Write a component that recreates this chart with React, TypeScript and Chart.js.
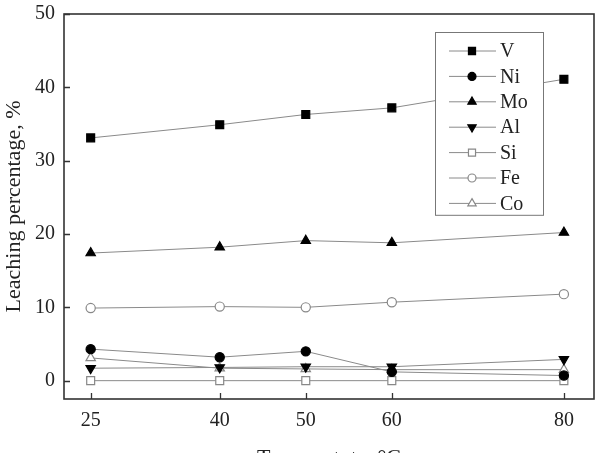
import React, { useEffect, useRef } from "react";
import { Chart, registerables } from "chart.js";
import { drawPoint } from "chart.js/helpers";

Chart.register(...registerables);

const temperatures = [25, 40, 50, 60, 80];
const xTickLabels = ["25", "40", "50", "60", "80"];
const yTicks = [0, 10, 20, 30, 40, 50];

const vValues = [33.1, 34.9, 36.3, 37.2, 41.1];
const niValues = [4.3, 3.2, 4.0, 1.2, 0.7];
const moValues = [17.4, 18.2, 19.1, 18.8, 20.2];
const alValues = [1.7, 1.8, 1.9, 1.9, 2.9];
const siValues = [0, 0, 0, 0, 0];
const feValues = [9.9, 10.1, 10.0, 10.7, 11.8];
const coValues = [3.1, 1.7, 1.6, 1.5, 1.5];

const seriesNames = ["V", "Ni", "Mo", "Al", "Si", "Fe", "Co"];

const FONT = "'Liberation Serif', 'Times New Roman', serif";
const LINE = "#8a8a8a";

type Sty = { style: string; rotation: number; radius: number; fill: string; stroke: string };
const styles: Sty[] = [
  { style: "rect", rotation: 0, radius: 5.6, fill: "#000", stroke: "#000" },
  { style: "circle", rotation: 0, radius: 4.6, fill: "#000", stroke: "#000" },
  { style: "triangle", rotation: 0, radius: 5.4, fill: "#000", stroke: "#000" },
  { style: "triangle", rotation: 180, radius: 5.4, fill: "#000", stroke: "#000" },
  { style: "rect", rotation: 0, radius: 5.6, fill: "#fff", stroke: "#888" },
  { style: "circle", rotation: 0, radius: 4.6, fill: "#fff", stroke: "#888" },
  { style: "triangle", rotation: 0, radius: 5.4, fill: "#fff", stroke: "#888" },
];

const allValues = [vValues, niValues, moValues, alValues, siValues, feValues, coValues];

const framePlugin = {
  id: "frameAndLegend",
  afterDatasetsDraw(chart: any) {
    const { ctx, chartArea } = chart;
    const { left, right, top, bottom } = chartArea;
    const xs = chart.scales.x;
    const ys = chart.scales.y;
    ctx.save();
    ctx.strokeStyle = "#333";
    ctx.lineWidth = 1.6;
    ctx.strokeRect(left, top, right - left, bottom - top);
    ctx.lineWidth = 1.3;
    ctx.beginPath();
    for (const v of yTicks) {
      const py = Math.round(ys.getPixelForValue(v)) + 0.5;
      ctx.moveTo(left, py);
      ctx.lineTo(left + 6, py);
    }
    for (const v of temperatures) {
      const px = Math.round(xs.getPixelForValue(v)) + 0.5;
      ctx.moveTo(px, bottom);
      ctx.lineTo(px, bottom - 6);
    }
    ctx.stroke();

    // legend
    const bx = right - 159;
    const by = top + 18;
    const bw = 108;
    const rowH = 25.4;
    const bh = rowH * seriesNames.length + 5;
    ctx.fillStyle = "#fff";
    ctx.fillRect(bx, by, bw, bh);
    ctx.strokeStyle = "#777";
    ctx.lineWidth = 1;
    ctx.strokeRect(bx + 0.5, by + 0.5, bw, bh);
    ctx.font = `20px ${FONT}`;
    ctx.textBaseline = "middle";
    ctx.textAlign = "left";
    seriesNames.forEach((name, i) => {
      const cy = by + 19 + i * rowH;
      ctx.strokeStyle = LINE;
      ctx.lineWidth = 1;
      ctx.beginPath();
      ctx.moveTo(bx + 14, cy);
      ctx.lineTo(bx + 61, cy);
      ctx.stroke();
      const s = styles[i];
      ctx.fillStyle = s.fill;
      ctx.strokeStyle = s.stroke;
      ctx.lineWidth = 1.2;
      drawPoint(ctx, { pointStyle: s.style, rotation: s.rotation, radius: s.radius - 0.6, borderWidth: 1.2 } as any, bx + 37, cy);
      ctx.fillStyle = "#222";
      ctx.fillText(name, bx + 65, cy + 1);
    });
    ctx.restore();
  },
};

export default function App() {
  const ref = useRef<HTMLCanvasElement | null>(null);
  useEffect(() => {
    if (!ref.current) return;
    const datasets = seriesNames.map((name, i) => {
      const s = styles[i];
      return {
        label: name,
        data: temperatures.map((t, j) => ({ x: t, y: allValues[i][j] })),
        borderColor: LINE,
        borderWidth: 1,
        pointStyle: s.style,
        pointRotation: s.rotation,
        pointRadius: s.radius,
        pointBackgroundColor: s.fill,
        pointBorderColor: s.stroke,
        pointBorderWidth: 1.2,
        tension: 0,
        clip: false,
      };
    });
    const chart = new Chart(ref.current, {
      type: "line",
      data: { datasets: datasets as any },
      plugins: [framePlugin],
      options: {
        animation: false,
        responsive: false,
        devicePixelRatio: 1,
        layout: { autoPadding: false, padding: { top: 14, right: 2, left: 0, bottom: 0 } },
        plugins: { legend: { display: false }, tooltip: { enabled: false } },
        scales: {
          x: {
            type: "linear",
            min: 21.9,
            max: 83.5,
            grid: { display: false, drawTicks: false },
            border: { display: false },
            afterBuildTicks: (scale: any) => {
              scale.ticks = temperatures.map((v) => ({ value: v }));
            },
            afterFit: (scale: any) => {
              scale.height = 54;
              scale.paddingLeft = 0;
              scale.paddingRight = 0;
            },
            ticks: {
              padding: 10,
              color: "#222",
              font: { family: FONT, size: 20 },
              autoSkip: false,
              maxRotation: 0,
              callback: (v: any) => {
                const i = temperatures.indexOf(Number(v));
                return i >= 0 ? xTickLabels[i] : "";
              },
            },
            title: {
              display: true,
              text: "Temperatute, \u00B0C",
              color: "#222",
              font: { family: FONT, size: 22 },
              padding: { top: 0, bottom: -18 },
            },
          },
          y: {
            type: "linear",
            min: -2.5,
            max: 50,
            grid: { display: false, drawTicks: false },
            border: { display: false },
            afterBuildTicks: (scale: any) => {
              scale.ticks = yTicks.map((v) => ({ value: v }));
            },
            afterFit: (scale: any) => {
              scale.width = 64;
              scale.paddingTop = 0;
              scale.paddingBottom = 0;
            },
            ticks: {
              padding: 9,
              color: "#222",
              font: { family: FONT, size: 20 },
              callback: (v: any) => String(v),
            },
            title: {
              display: true,
              text: "Leaching percentage, %",
              color: "#222",
              font: { family: FONT, size: 22 },
              padding: { top: 1, bottom: 0 },
            },
          },
        },
      } as any,
    });
    return () => chart.destroy();
  }, []);
  return (
    <div style={{ position: "absolute", left: 0, top: 0, width: 596, height: 453, background: "#fff" }}>
      <canvas ref={ref} width={596} height={453} />
    </div>
  );
}
